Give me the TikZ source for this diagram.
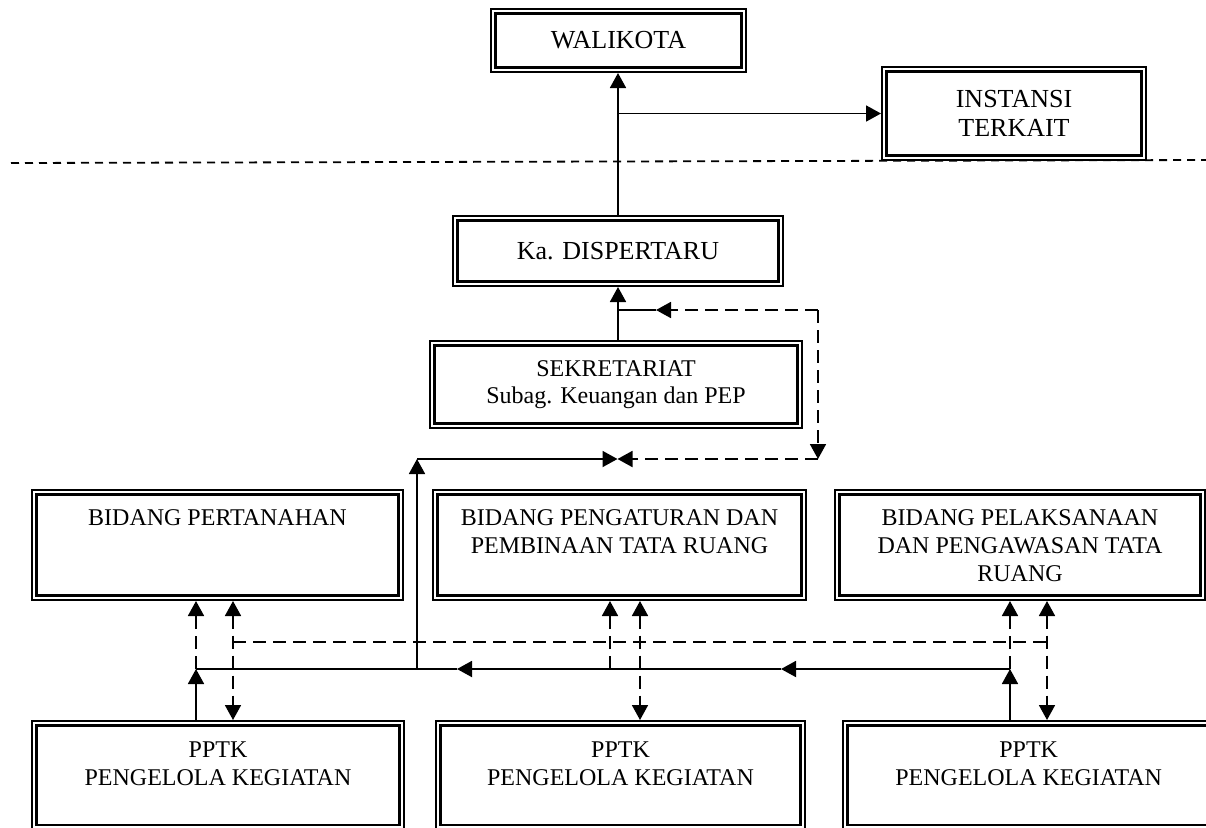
\documentclass[tikz,border=0pt]{standalone}
\usepackage{fontspec}
\setmainfont{Liberation Serif}
\usetikzlibrary{arrows.meta}

\begin{document}
\begin{tikzpicture}[
    x=0.5pt, y=-0.5pt,
    >={Triangle[length=7.5pt,width=8pt]},
    line width=0.9pt,
    kotak/.style={
        draw,
        double,
        double distance=1pt,
        line width=1.15pt,
        outer sep=1.65pt,
        inner sep=0pt,
        align=center
    },
    besar/.style={font=\fontsize{13}{14.5}\selectfont},
    biasa/.style={font=\fontsize{12}{13.8}\selectfont},
    atas/.style={
        anchor=north,
        yshift=-10pt,
        inner sep=0pt,
        align=center,
        font=\fontsize{12}{13.8}\selectfont
    },
    putus/.style={dash pattern=on 6.5pt off 3.5pt},
    batas/.style={dash pattern=on 4pt off 3pt}
]
    \useasboundingbox (0,0) rectangle (1206,827);

    \node[kotak,besar,minimum width=125.2pt,minimum height=29.2pt] (wali) at (618.5,40.5)
        {WALIKOTA};
    \node[kotak,besar,minimum width=129.7pt,minimum height=44.2pt] (instansi) at (1014,113.5)
        {INSTANSI\\TERKAIT};
    \node[kotak,besar,minimum width=162.7pt,minimum height=32.7pt] (kadis) at (618,251)
        {Ka. DISPERTARU};
    \node[kotak,biasa,minimum width=183.7pt,minimum height=41.2pt] (sekre) at (616,384.5)
        {SEKRETARIAT\\Subag. Keuangan dan PEP};

    \node[kotak,minimum width=183.2pt,minimum height=52.7pt,
        label={[atas]north:{BIDANG PERTANAHAN}}] (bidtanah) at (217.5,545) {};
    \node[kotak,minimum width=184.2pt,minimum height=52.7pt,
        label={[atas]north:{BIDANG PENGATURAN DAN\\PEMBINAAN TATA RUANG}}] (bidatur) at (619.5,545) {};
    \node[kotak,minimum width=182.7pt,minimum height=52.7pt,
        label={[atas]north:{BIDANG PELAKSANAAN\\DAN PENGAWASAN TATA\\RUANG}}] (bidlaks) at (1020,545) {};

    \node[kotak,minimum width=183.7pt,minimum height=51.9pt,
        label={[atas,yshift=-0.5pt]north:{PPTK\\PENGELOLA KEGIATAN}}] (pptkA) at (218,775.2) {};
    \node[kotak,minimum width=182.2pt,minimum height=51.9pt,
        label={[atas,yshift=-0.5pt]north:{PPTK\\PENGELOLA KEGIATAN}}] (pptkB) at (620.5,775.2) {};
    \node[kotak,minimum width=183.3pt,minimum height=51.9pt,
        label={[atas,yshift=-0.5pt]north:{PPTK\\PENGELOLA KEGIATAN}}] (pptkC) at (1028.7,775.2) {};

    % garis komando atas
    \coordinate (cabang) at (kadis.north |- instansi.west);
    \draw[->] (kadis.north) -- (kadis.north |- wali.south);
    \draw[->] (cabang) -- (instansi.west);
    \draw[batas] (11,163) -- (1206,160);
    \draw[->] (sekre.north -| kadis.south) -- (kadis.south);

    % putaran sekretariat
    \coordinate (putar) at (818,310);
    \coordinate (masuk) at (656,310);
    \coordinate (balik) at (818,459);
    \coordinate (temu) at (617.5,459);
    \coordinate (naik) at (417,669);
    \draw (kadis.south |- masuk) -- (masuk);
    \draw[putus,->] (putar) -- (masuk);
    \draw[putus,->] (putar) -- (balik);
    \draw[putus,->] (balik) -- (temu);
    \draw[->] (naik) -- (naik |- temu);
    \draw[->] (naik |- temu) -- (temu);

    % jalur bawah
    \coordinate (kiri) at (196,669);
    \coordinate (tengah) at (610,669);
    \coordinate (kanan) at (1010,669);
    \coordinate (panahA) at (781,669);
    \coordinate (panahB) at (457,669);
    \draw[->] (kanan) -- (panahA);
    \draw[->] (panahA) -- (panahB);
    \draw (panahB) -- (kiri);
    \draw[->] (kiri |- pptkA.north) -- (kiri);
    \draw[->] (kanan |- pptkC.north) -- (kanan);
    \draw[putus,->] (kiri) -- (kiri |- bidtanah.south);
    \draw[putus,->] (tengah) -- (tengah |- bidatur.south);
    \draw[putus,->] (kanan) -- (kanan |- bidlaks.south);

    \coordinate (sisiA) at (233,642);
    \coordinate (sisiB) at (640,642);
    \coordinate (sisiC) at (1047,642);
    \draw[putus] (sisiA) -- (sisiC);
    \draw[putus,<->] (sisiA |- bidtanah.south) -- (sisiA |- pptkA.north);
    \draw[putus,<->] (sisiB |- bidatur.south) -- (sisiB |- pptkB.north);
    \draw[putus,<->] (sisiC |- bidlaks.south) -- (sisiC |- pptkC.north);
\end{tikzpicture}
\end{document}
